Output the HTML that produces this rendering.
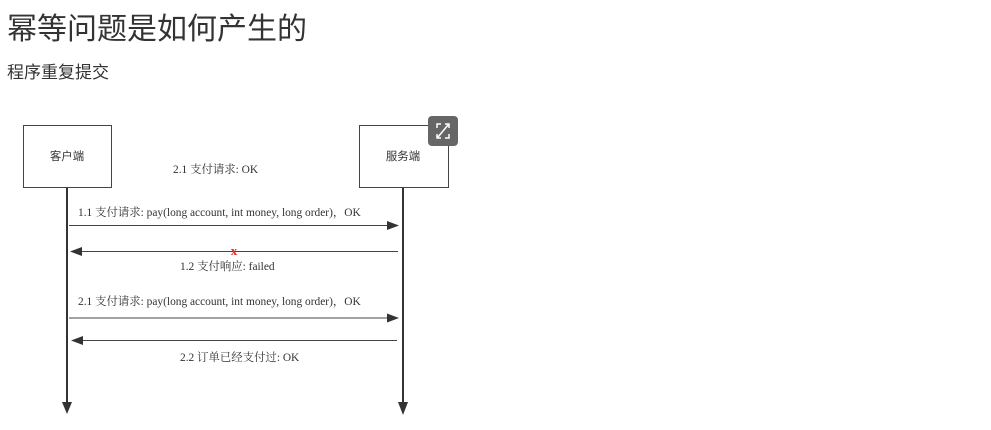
<!DOCTYPE html>
<html><head><meta charset="utf-8"><style>
body{margin:0;width:991px;height:430px;background:#fff;overflow:hidden;font-family:"Liberation Sans","Noto Sans CJK SC",sans-serif;color:#222}
h1{position:absolute;left:7px;top:4px;margin:0;font-size:30px;font-weight:normal;color:#333}
p{position:absolute;left:7px;top:58px;margin:0;font-size:17px;color:#333}
svg{position:absolute;left:0;top:0}
text{font-family:"Liberation Serif","Noto Serif CJK SC",serif;font-size:11.4px;fill:#333}
</style></head><body>
<h1>幂等问题是如何产生的</h1>
<p>程序重复提交</p>
<svg width="991" height="430">
<rect x="23.5" y="125.5" width="88" height="62" fill="#fff" stroke="#444"/>
<rect x="359.5" y="125.5" width="89" height="62" fill="#fff" stroke="#444"/>
<text x="67" y="160" text-anchor="middle" style="font-family:'Noto Sans CJK SC',sans-serif">客户端</text>
<text x="403" y="160" text-anchor="middle" style="font-family:'Noto Sans CJK SC',sans-serif">服务端</text>
<line x1="67" y1="188" x2="67" y2="404" stroke="#333" stroke-width="2"/>
<polygon points="62,402 72,402 67,414" fill="#333"/>
<line x1="403" y1="188" x2="403" y2="404" stroke="#333" stroke-width="2"/>
<polygon points="398,402 408,402 403,415" fill="#333"/>
<rect x="428" y="116" width="30" height="30" rx="4" fill="#666"/>
<path d="M437 128v-4h4M449 128v-4h-4M437 134v4h4M449 134v4h-4M438 137l10-12" stroke="#fff" stroke-width="1.5" fill="none"/>
<text x="173" y="173">2.1 支付请求: OK</text>
<text x="78" y="216">1.1 支付请求: pay(long account, int money, long order)，OK</text>
<line x1="69" y1="225.5" x2="390" y2="225.5" stroke="#444"/>
<polygon points="387,221 399,225.5 387,230" fill="#333"/>
<line x1="78" y1="251.5" x2="398" y2="251.5" stroke="#444"/>
<polygon points="70,251.5 82,247 82,256" fill="#333"/>
<text x="234" y="255" text-anchor="middle" style="fill:#e22;font-weight:bold;font-size:13px">x</text>
<text x="180" y="270">1.2 支付响应: failed</text>
<text x="78" y="305">2.1 支付请求: pay(long account, int money, long order)，OK</text>
<line x1="69" y1="318" x2="390" y2="318" stroke="#444"/>
<polygon points="387,313.5 399,318 387,322.5" fill="#333"/>
<line x1="80" y1="340.5" x2="397" y2="340.5" stroke="#444"/>
<polygon points="71,340.5 83,336 83,345" fill="#333"/>
<text x="180" y="361">2.2 订单已经支付过: OK</text>
</svg>
</body></html>
